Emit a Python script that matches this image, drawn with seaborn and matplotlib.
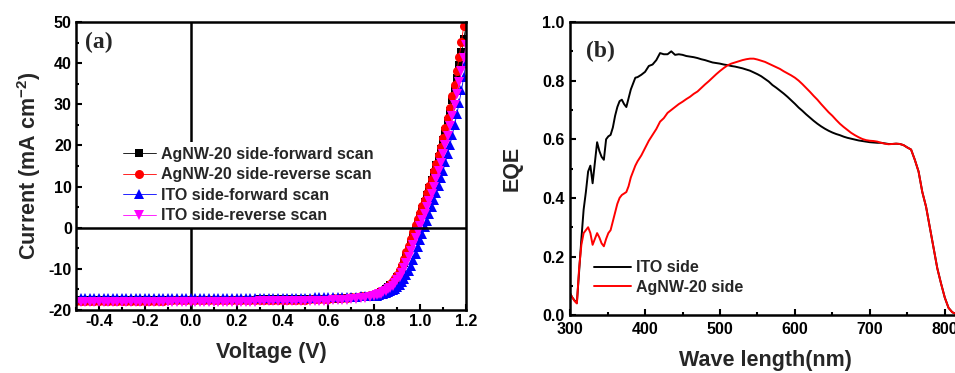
import numpy as np
import pandas as pd
import seaborn as sns
import matplotlib.pyplot as plt
from matplotlib.ticker import MultipleLocator, FormatStrFormatter

# ---- (a) J-V data ----
voltage = [
    -0.50, -0.48, -0.46, -0.44, -0.42, -0.40, -0.38, -0.36, -0.34, -0.32,
    -0.30, -0.28, -0.26, -0.24, -0.22, -0.20, -0.18, -0.16, -0.14, -0.12,
    -0.10, -0.08, -0.06, -0.04, -0.02, 0.00, 0.02, 0.04, 0.06, 0.08,
    0.10, 0.12, 0.14, 0.16, 0.18, 0.20, 0.22, 0.24, 0.26, 0.28,
    0.30, 0.32, 0.34, 0.36, 0.38, 0.40, 0.42, 0.44, 0.46, 0.48,
    0.50, 0.52, 0.54, 0.56, 0.58, 0.60, 0.62, 0.64, 0.66, 0.68,
    0.70, 0.72, 0.74, 0.76, 0.78,
    0.80, 0.81, 0.82, 0.83, 0.84, 0.85, 0.86, 0.87, 0.88, 0.89,
    0.90, 0.91, 0.92, 0.93, 0.94, 0.95, 0.96, 0.97, 0.98, 0.99,
    1.00, 1.01, 1.02, 1.03, 1.04, 1.05, 1.06, 1.07, 1.08, 1.09,
    1.10, 1.11, 1.12, 1.13, 1.14, 1.15, 1.16, 1.17, 1.18, 1.19, 1.20,
]

agnw_forward = [
    -17.6, -17.6, -17.6, -17.6, -17.6, -17.6, -17.6, -17.6, -17.6, -17.6,
    -17.6, -17.6, -17.6, -17.6, -17.6, -17.6, -17.6, -17.6, -17.6, -17.6,
    -17.5, -17.5, -17.5, -17.5, -17.5, -17.5, -17.5, -17.5, -17.5, -17.5,
    -17.5, -17.5, -17.5, -17.5, -17.5, -17.5, -17.5, -17.5, -17.5, -17.5,
    -17.4, -17.4, -17.4, -17.4, -17.4, -17.4, -17.4, -17.4, -17.4, -17.4,
    -17.4, -17.4, -17.4, -17.4, -17.3, -17.3, -17.3, -17.3, -17.2, -17.2,
    -17.1, -17.0, -16.9, -16.8, -16.6,
    -16.4, -16.2, -16.0, -15.7, -15.4, -15.0, -14.5, -14.0, -13.6, -12.9,
    -12.1, -11.1, -9.9, -8.5, -7.0, -5.4, -3.8, -2.1, -0.4, 1.2,
    2.9, 4.5, 6.2, 7.9, 9.7, 11.5, 13.3, 15.2, 17.2, 19.2,
    21.4, 23.6, 25.9, 28.4, 31.0, 33.7, 36.5, 39.5, 42.6, 45.8, 49.1,
]

agnw_reverse = [
    -17.7, -17.7, -17.7, -17.7, -17.7, -17.7, -17.7, -17.7, -17.7, -17.7,
    -17.7, -17.7, -17.7, -17.7, -17.7, -17.7, -17.7, -17.7, -17.7, -17.7,
    -17.6, -17.6, -17.6, -17.6, -17.6, -17.6, -17.6, -17.6, -17.6, -17.6,
    -17.6, -17.6, -17.6, -17.6, -17.6, -17.6, -17.6, -17.6, -17.6, -17.6,
    -17.5, -17.5, -17.5, -17.5, -17.5, -17.5, -17.5, -17.5, -17.5, -17.5,
    -17.5, -17.4, -17.4, -17.4, -17.3, -17.3, -17.2, -17.2, -17.1, -17.0,
    -16.9, -16.8, -16.7, -16.5, -16.4,
    -16.2, -16.0, -15.7, -15.4, -15.1, -14.8, -14.3, -13.7, -13.0, -12.3,
    -11.4, -10.3, -9.0, -7.6, -6.0, -4.4, -2.7, -1.0, 0.6, 2.1,
    3.6, 5.2, 6.8, 8.5, 10.2, 11.9, 13.7, 15.6, 17.6, 19.7,
    21.9, 24.2, 26.6, 29.2, 31.9, 34.7, 38.0, 41.5, 45.2, 49.0, 52.9,
]

ito_forward = [
    -17.2, -17.2, -17.2, -17.2, -17.2, -17.2, -17.2, -17.2, -17.2, -17.2,
    -17.2, -17.2, -17.2, -17.2, -17.2, -17.2, -17.2, -17.2, -17.2, -17.2,
    -17.1, -17.1, -17.1, -17.1, -17.1, -17.1, -17.1, -17.1, -17.1, -17.1,
    -17.1, -17.1, -17.1, -17.1, -17.1, -17.1, -17.1, -17.1, -17.1, -17.1,
    -17.0, -17.0, -17.0, -17.0, -17.0, -17.0, -17.0, -17.0, -17.0, -17.0,
    -17.0, -17.0, -16.9, -16.9, -16.9, -16.9, -16.9, -16.8, -16.8, -16.8,
    -16.8, -16.8, -16.7, -16.7, -16.6,
    -16.6, -16.5, -16.4, -16.2, -16.0, -15.8, -15.6, -15.4, -15.2, -14.9,
    -14.5, -14.0, -13.3, -12.5, -11.6, -10.5, -9.2, -7.8, -6.3, -4.7,
    -3.1, -1.5, 0.1, 1.7, 3.4, 5.0, 6.7, 8.4, 10.2, 12.0,
    13.9, 15.9, 18.0, 20.2, 22.5, 25.0, 27.6, 30.4, 33.4, 36.6, 40.0,
]

ito_reverse = [
    -18.1, -18.1, -18.1, -18.1, -18.1, -18.1, -18.1, -18.1, -18.1, -18.1,
    -18.1, -18.1, -18.1, -18.1, -18.1, -18.1, -18.1, -18.1, -18.1, -18.1,
    -18.0, -18.0, -18.0, -18.0, -18.0, -18.0, -18.0, -18.0, -18.0, -18.0,
    -18.0, -18.0, -18.0, -18.0, -18.0, -18.0, -18.0, -18.0, -18.0, -18.0,
    -17.9, -17.9, -17.9, -17.9, -17.9, -17.9, -17.9, -17.9, -17.9, -17.9,
    -17.8, -17.8, -17.8, -17.7, -17.7, -17.7, -17.6, -17.6, -17.5, -17.5,
    -17.4, -17.3, -17.2, -17.0, -16.8,
    -16.6, -16.4, -16.2, -16.0, -15.7, -15.4, -15.0, -14.6, -14.1, -13.5,
    -12.8, -12.0, -11.0, -9.8, -8.5, -7.1, -5.6, -4.1, -2.5, -1.0,
    0.4, 1.9, 3.4, 5.0, 6.6, 8.3, 10.0, 11.8, 13.7, 15.7,
    17.8, 20.0, 22.3, 24.7, 27.2, 29.8, 32.5, 35.3, 38.2, 41.2, 44.3,
]

jv_labels = ["AgNW-20 side-forward scan", "AgNW-20 side-reverse scan",
             "ITO side-forward scan", "ITO side-reverse scan"]

# ---- (b) EQE data ----
wavelength = [
    300, 303, 306, 309, 312, 315, 318, 321, 324, 327,
    330, 333, 336, 339, 342, 345, 348, 351, 354, 357,
    360, 363, 366, 369, 372, 375, 378, 381, 384, 387,
    390, 395, 400, 405, 410, 415, 420, 425, 430, 435,
    440, 445, 450, 455, 460, 465, 470, 475, 480, 485,
    490, 495, 500, 505, 510, 515, 520, 525, 530, 535,
    540, 545, 550, 555, 560, 565, 570, 575, 580, 585,
    590, 595, 600, 605, 610, 615, 620, 625, 630, 635,
    640, 645, 650, 655, 660, 665, 670, 675, 680, 685,
    690, 695, 700, 705, 710, 715, 720, 725, 730, 735,
    740, 745, 750, 755, 760, 765, 770, 775, 780, 785,
    790, 795, 800, 805, 810, 815, 820,
]

eqe_ito = [
    0.074, 0.060, 0.050, 0.042, 0.150, 0.260, 0.360, 0.420, 0.490, 0.510,
    0.450, 0.520, 0.590, 0.560, 0.540, 0.530, 0.600, 0.610, 0.615, 0.640,
    0.680, 0.710, 0.730, 0.735, 0.720, 0.710, 0.740, 0.770, 0.790, 0.810,
    0.812, 0.820, 0.830, 0.850, 0.855, 0.870, 0.894, 0.890, 0.890, 0.900,
    0.888, 0.890, 0.888, 0.884, 0.882, 0.880, 0.877, 0.873, 0.870, 0.866,
    0.862, 0.860, 0.858, 0.855, 0.853, 0.850, 0.848, 0.845, 0.842, 0.838,
    0.834, 0.828, 0.822, 0.815, 0.806, 0.797, 0.785, 0.776, 0.766, 0.756,
    0.745, 0.733, 0.721, 0.708, 0.697, 0.685, 0.674, 0.663, 0.653, 0.644,
    0.636, 0.629, 0.623, 0.618, 0.614, 0.609, 0.605, 0.602, 0.599, 0.596,
    0.594, 0.592, 0.590, 0.589, 0.588, 0.588, 0.586, 0.584, 0.584, 0.585,
    0.584, 0.580, 0.572, 0.565, 0.530, 0.490, 0.420, 0.370, 0.300, 0.230,
    0.160, 0.108, 0.060, 0.025, 0.010, 0.004, 0.001,
]

eqe_agnw = [
    0.074, 0.060, 0.048, 0.040, 0.160, 0.240, 0.280, 0.290, 0.300, 0.280,
    0.240, 0.260, 0.280, 0.265, 0.245, 0.235, 0.260, 0.280, 0.290, 0.320,
    0.350, 0.380, 0.400, 0.410, 0.415, 0.420, 0.440, 0.470, 0.490, 0.510,
    0.525, 0.545, 0.570, 0.595, 0.615, 0.635, 0.660, 0.672, 0.690, 0.700,
    0.710, 0.720, 0.728, 0.737, 0.745, 0.755, 0.763, 0.775, 0.787, 0.798,
    0.810, 0.822, 0.833, 0.843, 0.852, 0.858, 0.862, 0.866, 0.870, 0.873,
    0.875, 0.875, 0.872, 0.868, 0.864, 0.858, 0.852, 0.846, 0.840, 0.832,
    0.825, 0.818, 0.810, 0.800, 0.788, 0.775, 0.762, 0.748, 0.735, 0.720,
    0.706, 0.692, 0.680, 0.666, 0.653, 0.642, 0.632, 0.622, 0.614, 0.607,
    0.601, 0.597, 0.595, 0.594, 0.592, 0.588, 0.585, 0.583, 0.584, 0.585,
    0.584, 0.580, 0.572, 0.565, 0.530, 0.490, 0.420, 0.370, 0.300, 0.230,
    0.160, 0.108, 0.060, 0.025, 0.010, 0.004, 0.001,
]

eqe_labels = ["ITO side", "AgNW-20 side"]

# ---- style ----
sns.set_theme(style="ticks")
plt.rcParams['font.family'] = ['Liberation Sans', 'DejaVu Sans']
plt.rcParams['font.weight'] = 'bold'
plt.rcParams['axes.labelweight'] = 'bold'
plt.rcParams['axes.unicode_minus'] = False
plt.rcParams['mathtext.fontset'] = 'custom'
plt.rcParams['mathtext.rm'] = 'Liberation Sans:bold'
plt.rcParams['mathtext.bf'] = 'Liberation Sans:bold'
plt.rcParams['mathtext.default'] = 'bf'

fig = plt.figure(figsize=(9.55, 3.73), dpi=100)
ax1 = fig.add_axes([0.0796, 0.169, 0.4084, 0.772])
ax2 = fig.add_axes([0.597, 0.155, 0.408, 0.786])


def style_axis(ax, size=11.5):
    for s in ax.spines.values():
        s.set_linewidth(1.8)
        s.set_color('black')
    ax.tick_params(which='both', direction='in', top=False, right=False,
                   width=1.5, labelsize=size, colors='black', pad=3)
    ax.tick_params(which='major', length=4)
    ax.tick_params(which='minor', length=2.5)
    for lab in ax.get_xticklabels() + ax.get_yticklabels():
        lab.set_fontweight('bold')


# ---- panel (a) ----
jv = pd.DataFrame({"V": voltage})
series = [agnw_forward, agnw_reverse, ito_forward, ito_reverse]
colors = ["black", "red", "blue", "magenta"]
markers = ["s", "o", "^", "v"]
sizes = [5.5, 6.5, 6.5, 6.5]
for lab, vals, c, m, ms in zip(jv_labels, series, colors, markers, sizes):
    jv[lab] = vals
    sns.lineplot(data=jv, x="V", y=lab, ax=ax1, color=c, marker=m,
                 markersize=ms, markeredgewidth=0, linewidth=0.6,
                 label=lab, sort=False)

# y=0 line stays above the legend box, x=0 line is hidden behind it
ax1.axhline(0, color='black', lw=1.8, zorder=6)
ax1.axvline(0, color='black', lw=1.8, zorder=1)
ax1.set_xlim(-0.5, 1.2)
ax1.set_ylim(-20, 50)
ax1.xaxis.set_minor_locator(MultipleLocator(0.1))
ax1.yaxis.set_major_locator(MultipleLocator(10))
ax1.yaxis.set_minor_locator(MultipleLocator(5))
ax1.set_xticks([-0.4, -0.2, 0.0, 0.2, 0.4, 0.6, 0.8, 1.0, 1.2])
ax1.xaxis.set_major_formatter(FormatStrFormatter('%.1f'))
ax1.set_xlabel("Voltage (V)", fontsize=15.5, fontweight='bold', labelpad=9)
ax1.set_ylabel(r"Current (mA cm$^{-2}$)", fontsize=15.5, fontweight='bold', labelpad=4)
style_axis(ax1)
leg1 = ax1.legend(loc='upper left', bbox_to_anchor=(0.087, 0.612), frameon=True,
                  fontsize=11.5, handlelength=2.1, handletextpad=0.3,
                  labelspacing=0.35, borderpad=0.3, fancybox=False)
leg1.get_frame().set_facecolor('white')
leg1.get_frame().set_edgecolor('none')
leg1.get_frame().set_alpha(1)
leg1.set_zorder(5)
ax1.text(0.023, 0.93, "(a)", transform=ax1.transAxes, fontsize=17,
         fontweight='bold', family=['Liberation Serif'], va='center')

# ---- panel (b) ----
eqe = pd.DataFrame({"wl": wavelength, eqe_labels[0]: eqe_ito, eqe_labels[1]: eqe_agnw})
for lab, c in zip(eqe_labels, ["black", "red"]):
    sns.lineplot(data=eqe, x="wl", y=lab, ax=ax2, color=c, linewidth=1.4, label=lab)
ax2.set_xlim(300, 820)
ax2.set_ylim(0, 1.0)
ax2.xaxis.set_major_locator(MultipleLocator(100))
ax2.xaxis.set_minor_locator(MultipleLocator(50))
ax2.yaxis.set_major_locator(MultipleLocator(0.2))
ax2.yaxis.set_minor_locator(MultipleLocator(0.1))
ax2.yaxis.set_major_formatter(FormatStrFormatter('%.1f'))
ax2.set_xlabel("Wave length(nm)", fontsize=15.5, fontweight='bold', labelpad=9)
ax2.set_ylabel("EQE", fontsize=15.5, fontweight='bold', labelpad=14)
style_axis(ax2)
ax2.tick_params(axis='x', pad=5)
ax2.tick_params(axis='y', pad=4)
ax2.legend(loc='lower left', bbox_to_anchor=(0.025, 0.02), frameon=False,
           fontsize=11.5, handlelength=2.3, handletextpad=0.3, labelspacing=0.3)
ax2.text(0.04, 0.9, "(b)", transform=ax2.transAxes, fontsize=17,
         fontweight='bold', family=['Liberation Serif'], va='center')

fig.savefig("out.png", dpi=100)
